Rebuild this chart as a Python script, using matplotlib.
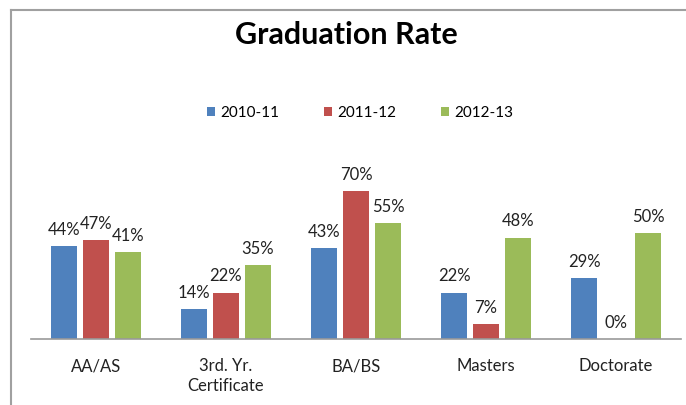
import matplotlib
matplotlib.use("Agg")
import matplotlib.pyplot as plt
from matplotlib.lines import Line2D
import numpy as np

plt.rcParams['font.family'] = ['Lato', 'DejaVu Sans']

categories = ["AA/AS", "3rd. Yr.\nCertificate", "BA/BS", "Masters", "Doctorate"]
series_names = ["2010-11", "2011-12", "2012-13"]
v2010_11 = [44, 14, 43, 22, 29]
v2011_12 = [47, 22, 70, 7, 0]
v2012_13 = [41, 35, 55, 48, 50]
colors = ["#4F81BD", "#C0504D", "#9BBB59"]

W, H = 686, 405
fig = plt.figure(figsize=(W / 100, H / 100), dpi=100)

# axes placement (pixels)
x0, x1 = 31, 681
y_base, y_top = 339, 170
ax = fig.add_axes([x0 / W, 1 - y_base / H, (x1 - x0) / W, (y_base - y_top) / H])

x = np.arange(len(categories))
bw = 0.2
gap = 0.046
offsets = [-(bw + gap), 0, bw + gap]
for vals, off, c, name in zip([v2010_11, v2011_12, v2012_13], offsets, colors, series_names):
    bars = ax.bar(x + off, vals, width=bw, color=c, label=name, zorder=2)
    for b, v in zip(bars, vals):
        ax.text(b.get_x() + b.get_width() / 2, v + 5.3, f"{v}%", ha="center", va="baseline",
                fontsize=12, color="#222222")

ax.set_xlim(-0.5, len(categories) - 0.5)
ax.set_ylim(0, 80)
ax.set_xticks(x)
ax.set_xticklabels(categories, fontsize=12, color="#222222", linespacing=1.3)
ax.tick_params(axis="x", length=0, pad=14)
ax.set_yticks([])
for s in ["top", "right", "left"]:
    ax.spines[s].set_visible(False)
ax.spines["bottom"].set_color("#999999")
ax.spines["bottom"].set_linewidth(1.2)

fig.text(346 / W, 1 - 44 / H, "Graduation Rate", ha="center", va="baseline",
         fontsize=22, fontweight="bold", color="#000000")

leg = fig.legend(loc="center", bbox_to_anchor=(360 / W, 1 - 113 / H), ncol=3, frameon=False,
                 fontsize=11, handlelength=0.55, handleheight=0.55, handletextpad=0.35,
                 columnspacing=2.9)

# chart frame (top and left border)
fig.add_artist(Line2D([11 / W, 1.0], [1 - 10 / H, 1 - 10 / H], transform=fig.transFigure,
                      color="#A0A0A0", lw=1.5))
fig.add_artist(Line2D([11 / W, 11 / W], [0, 1 - 10 / H], transform=fig.transFigure,
                      color="#A0A0A0", lw=1.5))

fig.savefig("out.png", dpi=100)
